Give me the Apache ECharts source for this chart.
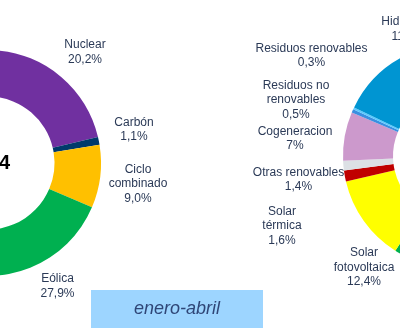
<!DOCTYPE html>
<html>
<head>
<meta charset="utf-8">
<script src="https://cdn.jsdelivr.net/npm/echarts@6/dist/echarts.min.js"></script>
<style>
  html, body { margin: 0; padding: 0; background: #ffffff; }
  #chart { width: 400px; height: 331px; }
</style>
</head>
<body>
<div id="chart"></div>
<script>
// Generation mix by technology, share of total (%), written as printed
const categories = ['Nuclear', 'Carbón', 'Ciclo combinado', 'Eólica', 'Solar fotovoltaica',
  'Solar térmica', 'Otras renovables', 'Cogeneracion', 'Residuos no renovables',
  'Residuos renovables', 'Hidráulica'];
const labelNames = ['Nuclear', 'Carbón', 'Ciclo\ncombinado', 'Eólica', 'Solar\nfotovoltaica',
  'Solar\ntérmica', 'Otras renovables', 'Cogeneracion', 'Residuos no\nrenovables',
  'Residuos renovables', 'Hidráulica'];
const shareAbril = ['20,2', '1,1', '9,0', '27,9', '16,9', '1,2', '1,4', '6,4', '0,7', '0,4', '14,8'];
const shareEneroAbril = ['20,6', '1,2', '14,1', '29,4', '12,4', '1,6', '1,4', '7', '0,5', '0,3', '11,5'];
const colors = ['#7030A0', '#003A6B', '#FFC000', '#00B050', '#FFFF00', '#C00000',
  '#DCE0E5', '#CC99CC', '#3A8FE0', '#5CCBFF', '#0095D2'];
const yearLabel = '2024';
const periodLabel = 'enero-abril';

// label anchor points (px) for each donut
const labelPosLeft = {
  'Nuclear': [85, 52], 'Carbón': [134, 129.5], 'Ciclo combinado': [138, 184], 'Eólica': [57.5, 286]
};
const labelPosRight = {
  'Hidráulica': [408, 29], 'Residuos renovables': [311.5, 55.5],
  'Residuos no renovables': [296, 100], 'Cogeneracion': [295, 138.7],
  'Otras renovables': [298.5, 179.5], 'Solar térmica': [282, 226],
  'Solar fotovoltaica': [364, 267.5]
};

const toNum = s => parseFloat(s.replace(',', '.'));
const textColor = '#2B3A57';

function donut(shares, center, radius, startAngle, posMap) {
  return {
    type: 'pie',
    center: center,
    radius: radius,
    startAngle: startAngle,
    clockwise: true,
    avoidLabelOverlap: false,
    silent: true,
    data: categories.map((c, i) => ({
      name: c,
      value: toNum(shares[i]),
      itemStyle: { color: colors[i] }
    })),
    label: {
      show: true,
      position: 'outside',
      formatter: p => labelNames[p.dataIndex] + '\n' + shares[p.dataIndex] + '%',
      fontFamily: 'Liberation Sans, Arial, sans-serif',
      fontSize: 12,
      lineHeight: 14.4,
      color: textColor,
      align: 'center'
    },
    labelLine: { show: false },
    labelLayout: function (params) {
      const name = categories[params.dataIndex];
      const pos = posMap[name];
      if (!pos) return {};
      return { x: pos[0], y: pos[1], align: 'center', verticalAlign: 'middle' };
    }
  };
}

const chart = echarts.init(document.getElementById('chart'), null, { renderer: 'canvas' });
chart.setOption({
  animation: false,
  backgroundColor: '#ffffff',
  series: [
    donut(shareAbril, [-12, 163], [66.5, 113], 86, labelPosLeft),
    donut(shareEneroAbril, [455, 156], [62, 112], 112.9, labelPosRight)
  ],
  graphic: [
    {
      type: 'text',
      style: {
        text: yearLabel, x: -12, y: 163,
        align: 'center', verticalAlign: 'middle',
        font: 'bold 20px "Liberation Sans", Arial, sans-serif',
        fill: '#000000'
      }
    },
    {
      type: 'rect',
      shape: { x: 91, y: 290, width: 172, height: 38 },
      style: { fill: '#9DD5FF' }
    },
    {
      type: 'text',
      style: {
        text: periodLabel, x: 177, y: 309,
        align: 'center', verticalAlign: 'middle',
        font: 'italic 18px "Liberation Sans", Arial, sans-serif',
        fill: '#2F4677'
      }
    }
  ]
});
</script>
</body>
</html>
